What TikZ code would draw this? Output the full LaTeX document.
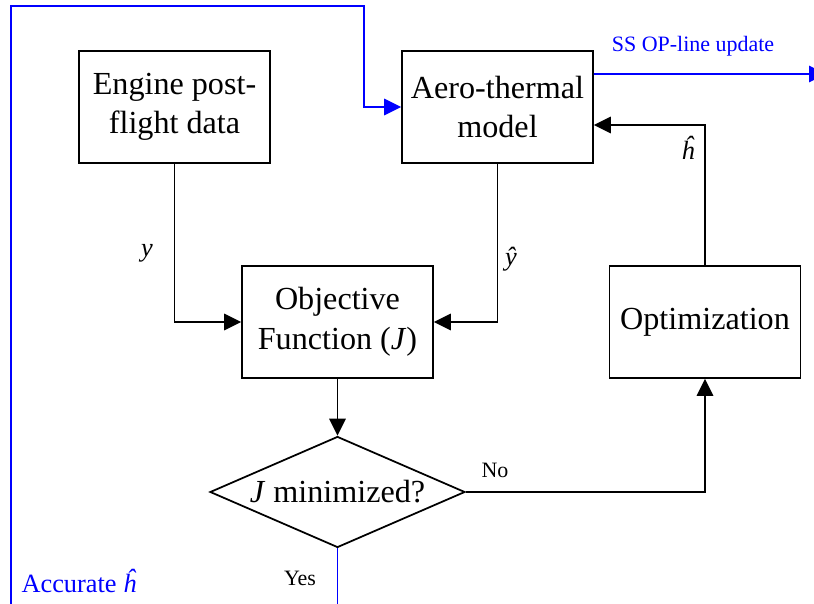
\documentclass[tikz,border=0pt]{standalone}
\usepackage{fontspec}
\setmainfont{Liberation Serif}
\usepackage{xcolor}
\usetikzlibrary{calc, positioning, arrows.meta, shapes.geometric}

\begin{document}
\begin{tikzpicture}[x=0.02cm, y=-0.02cm,
  block/.style={draw, line width=1pt, minimum width=3.82cm, minimum height=2.24cm,
    align=center, inner sep=2pt, font=\fontsize{18.3}{22.5}\selectfont},
  check/.style={draw, line width=1pt, diamond, aspect=2.3, inner sep=0pt,
    minimum width=5.1cm, minimum height=2.22cm, font=\fontsize{18.3}{22}\selectfont},
  flow/.style={line width=1pt, -{Triangle[length=3.4mm, width=3.3mm]}},
  loop/.style={flow, blue},
  lbl/.style={font=\fontsize{15}{17}\selectfont},
  small/.style={font=\fontsize{12.5}{14}\selectfont}]

  \useasboundingbox (0,0) rectangle (814,604);

  % Blocks of the estimation loop
  \node [block] (eng)  at (174.5,107) {Engine post-\\flight data};
  \node [block] (aero) at (497.5,107) {Aero-thermal\\model};
  \node [block] (obj)  at (337.5,322) {Objective\\Function (\textit{J})};
  \node [block] (opt)  at (705,322)   {Optimization};
  \node [check] (dec)  at (337.5,492) {\textit{J} minimized?};

  % Free ends at the page border
  \coordinate (yesend) at (337.5,604);
  \coordinate (loopend) at (11,604);
  \coordinate (topturn) at (364,6);
  \coordinate (outend) at (826,74);

  % Measured and predicted outputs into the objective
  \draw [flow] (eng.south) |- (obj.west);
  \draw [flow] (aero.south) |- (obj.east);
  \draw [flow] (obj.south) -- (dec.north);
  \draw [flow] (dec.east) -| (opt.south);
  \draw [flow] (opt.north) |- ([yshift=-0.36cm]aero.east);

  % Accepted health parameters fed back to the model
  \draw [line width=1pt, blue] (dec.south) -- (yesend);
  \draw [loop] (loopend) |- (topturn) |- (aero.west);
  \draw [loop] ([yshift=0.66cm]aero.east) -- (outend);

  % Labels on the connectors
  \node [lbl] (ylbl) at (147,253) {\textit{y}};
  \node [lbl] (yhat) at (511,259) {\textit{\^y}};
  \node [lbl] (hhat) at (688,148) {\textit{\^h}};
  \node [small] (no)  at (495,470) {No};
  \node [small] (yes) at (300,578) {Yes};
  \node [lbl, blue] (acc) at (79,581) {Accurate \textit{\^h}};
  \node [small, blue] (ss) at (693,46) {SS OP-line update};
\end{tikzpicture}
\end{document}
